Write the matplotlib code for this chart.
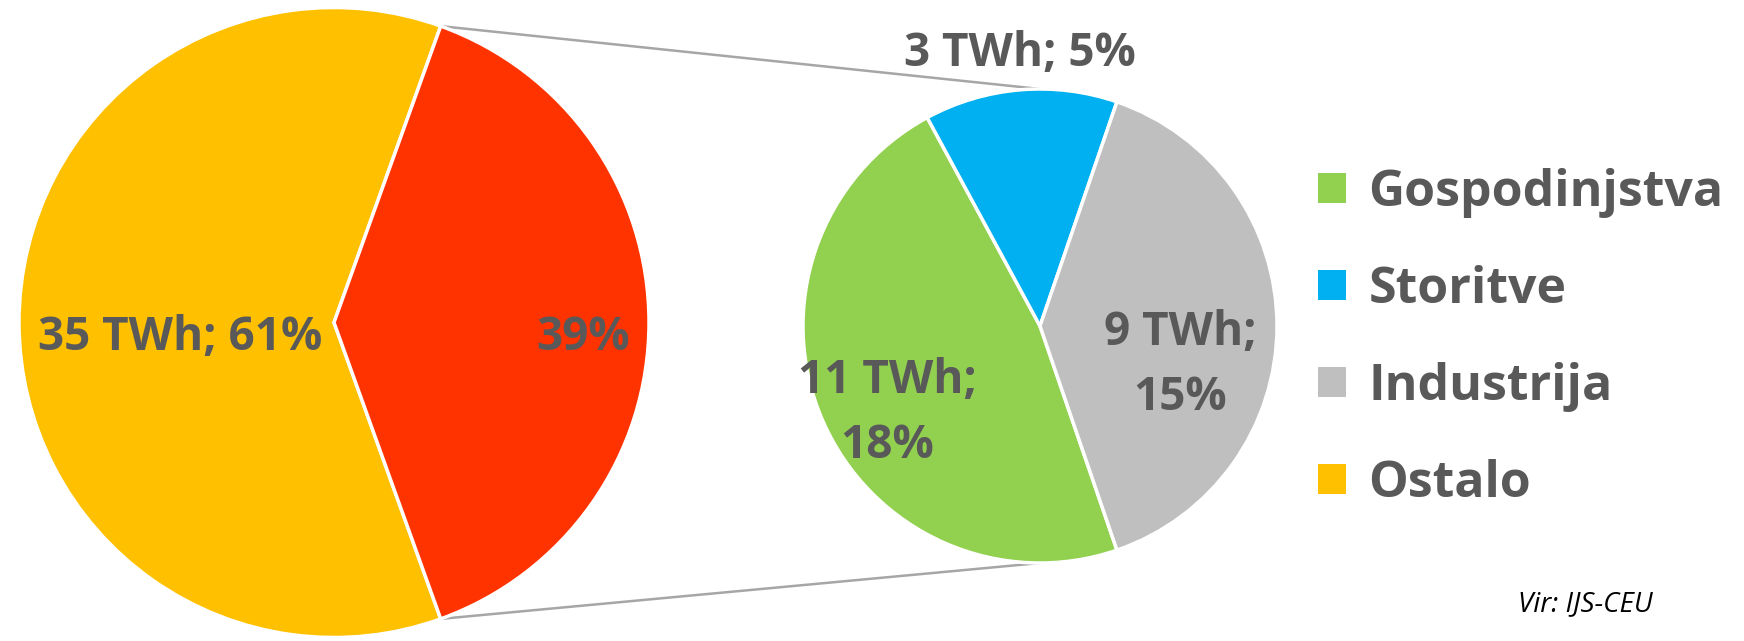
import numpy as np
import matplotlib.pyplot as plt
from matplotlib.patches import Patch

# main pie: Ostalo vs. the part that is split in the second pie
main_labels = ['Ostalo', 'Gospodinjstva + Storitve + Industrija']
main_twh = [35, 23]
main_share = [61, 39]

# secondary pie
sub_labels = ['Gospodinjstva', 'Storitve', 'Industrija']
sub_twh = [11, 3, 9]
sub_share = [18, 5, 15]

legend_labels = ['Gospodinjstva', 'Storitve', 'Industrija', 'Ostalo']

colors_main = ['#FFC000', '#FF3300']
colors_sub = ['#92D050', '#00B0F0', '#BFBFBF']
legend_colors = ['#92D050', '#00B0F0', '#BFBFBF', '#FFC000']
TXT = '#595959'

plt.rcParams['font.family'] = ['Open Sans', 'DejaVu Sans']

W, H = 1744, 641
fig = plt.figure(figsize=(W / 100, H / 100), dpi=100)
ax = fig.add_axes([0, 0, 1, 1])

# layout in pixels (y up)
c1, r1 = (334, 318.5), 315
c2, r2 = (1040, 315), 237

# red wedge centred on the right side
red_half = main_share[1] / sum(main_share) * 180
ax.pie(main_share, colors=colors_main, startangle=red_half, counterclock=True,
       center=c1, radius=r1, wedgeprops=dict(edgecolor='white', linewidth=2.5))

# grey wedge centred on the right side, drawn clockwise from its lower edge
grey_half = sub_share[2] / sum(sub_share) * 180
ax.pie(sub_share, colors=colors_sub, startangle=-grey_half, counterclock=False,
       center=c2, radius=r2, wedgeprops=dict(edgecolor='white', linewidth=2.5))

# connector lines from the red wedge edges to top/bottom of the second pie
a = np.deg2rad(red_half)
for s in (1, -1):
    x0 = c1[0] + r1 * np.cos(a)
    y0 = c1[1] + s * r1 * np.sin(a)
    ax.plot([x0, c2[0]], [y0, c2[1] + s * r2], color='#A6A6A6', lw=1.8, zorder=0)

lab = dict(color=TXT, fontsize=33, fontweight='bold', ha='center', va='center')
ax.text(c1[0] - 0.49 * r1, c1[1] - 15, f'{main_twh[0]} TWh; {main_share[0]}%', **lab)
ax.text(c1[0] + 0.79 * r1, c1[1] - 15, f'{main_share[1]}%', **lab)

lab2 = dict(lab, fontsize=33, linespacing=1.5)
ax.text(c2[0] - 153, c2[1] - 87, f'{sub_twh[0]} TWh;\n{sub_share[0]}%', **lab2)
ax.text(c2[0] - 20, c2[1] + 272, f'{sub_twh[1]} TWh; {sub_share[1]}%', **lab2)
ax.text(c2[0] + 140, c2[1] - 39, f'{sub_twh[2]} TWh;\n{sub_share[2]}%', **lab2)

handles = [Patch(facecolor=c, edgecolor='none') for c in legend_colors]
leg = ax.legend(handles, legend_labels, loc='upper left', bbox_to_anchor=(1273, 641 - 123),
                bbox_transform=ax.transData, frameon=False, fontsize=36,
                handlelength=0.55, handleheight=0.55, handletextpad=0.46, labelspacing=0.94)
for t in leg.get_texts():
    t.set_color(TXT)
    t.set_fontweight('bold')

ax.text(1585, 641 - 604, 'Vir: IJS-CEU', fontsize=20, fontstyle='italic', color='black',
        ha='center', va='center')

ax.set_xlim(0, W)
ax.set_ylim(0, H)
ax.set_aspect('equal')
ax.axis('off')

fig.savefig('out.png', dpi=100)
